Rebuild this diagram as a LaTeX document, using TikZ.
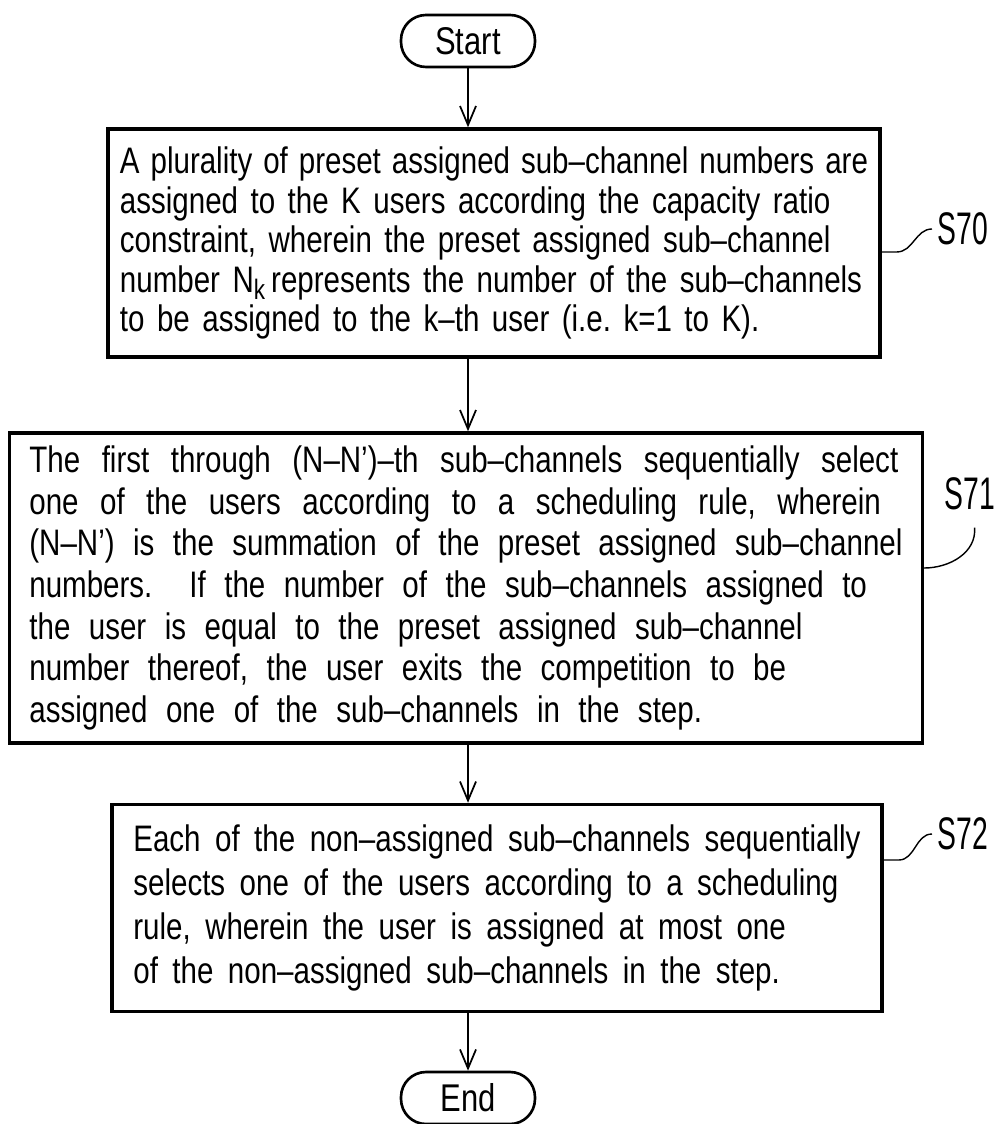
\documentclass[tikz,border=0pt]{standalone}
\usepackage{fontspec}
\setmainfont{Liberation Sans}[FakeStretch=0.8]
\newfontfamily\tagfont{Liberation Sans}[FakeStretch=0.62]
\usetikzlibrary{arrows.meta}
\newcommand\textA{\fontsize{21}{22.5}\selectfont\spaceskip=0.25cm\relax}
\newcommand\textB{\fontsize{21}{23.7}\selectfont\spaceskip=0.37cm\relax}
\newcommand\textC{\fontsize{21}{25}\selectfont\spaceskip=0.29cm\relax}

\begin{document}
\begin{tikzpicture}[x=0.02cm,y=-0.02cm,
    stepbox/.style={draw,line width=2pt,align=left,inner sep=0.1cm},
    term/.style={draw,line width=1.5pt,rounded corners=0.5cm,minimum width=2.68cm,minimum height=1.04cm,inner sep=0pt,font=\fontsize{22}{22}\selectfont},
    flow/.style={-{Straight Barb[length=0.38cm,width=0.32cm]},line width=1pt},
    tag/.style={inner sep=0pt,anchor=west,font=\tagfont\fontsize{26}{26}\selectfont},
    lead/.style={line width=0.8pt}]
    \useasboundingbox (0,0) rectangle (996,1124);
    \node[term] (start) at (468,41) {Start};
    \node[stepbox,minimum width=15.44cm,minimum height=4.56cm,font=\textA] (s70box) at (494,243)
    {{\spaceskip=0.22cm\relax A plurality of preset assigned sub–channel numbers are}\\
     assigned to the K users according the capacity ratio\\
     constraint, wherein the preset assigned sub–channel\\
     number N\raisebox{-0.4ex}{\fontsize{16}{16}\selectfont k}\,represents the number of the sub–channels\\
     to be assigned to the k–th user (i.e.\ k=1 to K).};
    \node[stepbox,minimum width=18.26cm,minimum height=6.2cm,font=\textB] (s71box) at (466,588)
    {{\spaceskip=0.43cm\relax The first through (N–N’)–th sub–channels sequentially select}\\
     {\spaceskip=0.43cm\relax one of the users according to a scheduling rule, wherein}\\
     (N–N’) is the summation of the preset assigned sub–channel\\
     numbers.\ \ If the number of the sub–channels assigned to\\
     the user is equal to the preset assigned sub–channel\\
     number thereof, the user exits the competition to be\\
     assigned one of the sub–channels in the step.};
    \node[stepbox,minimum width=15.4cm,minimum height=4.14cm,font=\textC] (s72box) at (497,908)
    {Each of the non–assigned sub–channels sequentially\\
     selects one of the users according to a scheduling\\
     rule, wherein the user is assigned at most one\\
     of the non–assigned sub–channels in the step.};
    \node[term] (end) at (468,1098) {End};
    \draw[flow] (start) -- (start |- s70box.north);
    \draw[flow] (s70box.south -| start) -- (s71box.north -| start);
    \draw[flow] (s71box.south -| start) -- (s72box.north -| start);
    \draw[flow] (s72box.south -| start) -- (end);
    \node[tag] (s70) at (937,229) {S70};
    \node[tag] (s71) at (944,494) {S71};
    \node[tag] (s72) at (937,834) {S72};
    \draw[lead] ([yshift=-0.18cm]s70box.east) -- ++(0.3cm,0) to[out=0,in=180] ([xshift=-0.1cm]s70.west);
    \draw[lead] ([yshift=0.4cm]s71box.east) to[out=0,in=-85] ([xshift=0.1cm,yshift=-0.34cm]s71.south);
    \draw[lead] ([yshift=0.96cm]s72box.east) -- ++(0.3cm,0) to[out=0,in=180] ([xshift=-0.1cm]s72.west);
\end{tikzpicture}
\end{document}
